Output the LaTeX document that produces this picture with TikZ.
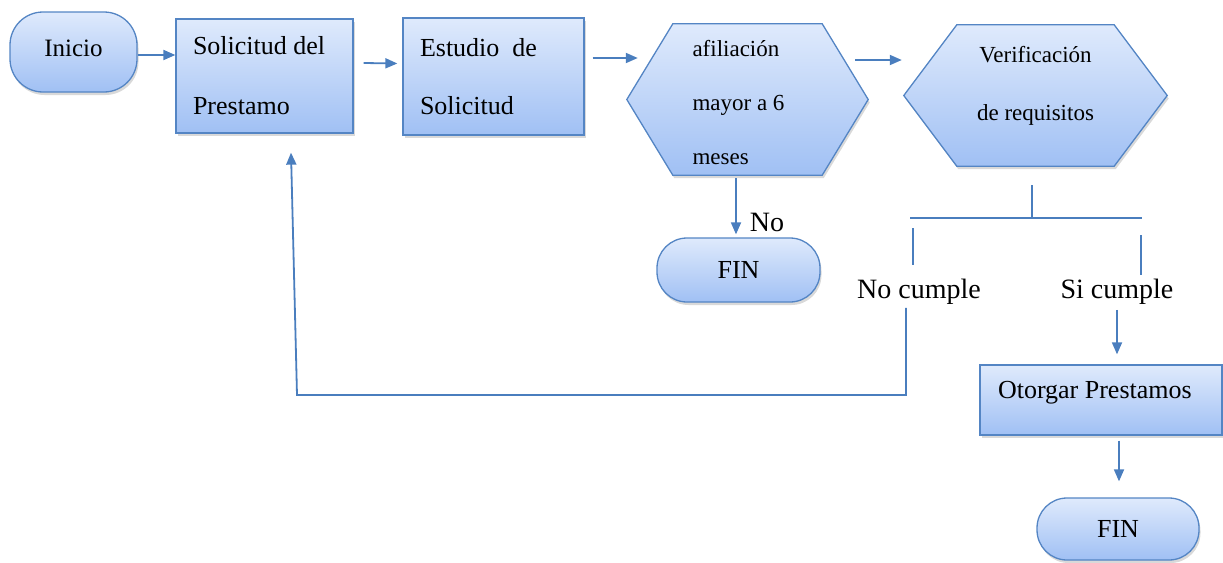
\documentclass[tikz,border=0pt]{standalone}
\usepackage{fontspec}
\setmainfont{Liberation Serif}
\usetikzlibrary{arrows.meta,shadows,backgrounds}
\definecolor{edgec}{RGB}{84,133,196}
\definecolor{topc}{RGB}{223,234,252}
\definecolor{botc}{RGB}{160,192,244}
\definecolor{linec}{RGB}{74,126,190}
\tikzset{
  shadebox/.style={top color=topc, bottom color=botc, draw=edgec, line width=1.3pt,
    drop shadow={shadow xshift=1.5pt, shadow yshift=-3pt, opacity=0.3}},
  procbox/.style={shadebox, rectangle, inner sep=0pt, align=flush left},
  termbox/.style={shadebox, rectangle, rounded corners=30pt, inner sep=0pt},
  hexframe/.style={rectangle, draw=none, inner sep=0pt},
  conn/.style={draw=linec, line width=1.8pt},
  arr/.style={conn, -{Triangle[length=12pt,width=10pt]}},
  lbl/.style={font=\fontsize{28}{32}\selectfont, inner sep=0pt},
}
\begin{document}
\begin{tikzpicture}[x=1pt,y=-1pt]
\useasboundingbox (0,0) rectangle (1223,562);
% nodes
\node[termbox, minimum width=127pt, minimum height=80pt, rounded corners=33pt,
      font=\fontsize{25}{30}\selectfont, text depth=8pt] (ini) at (73.5,52) {Inicio};
\node[procbox, minimum width=177pt, minimum height=114pt, text width=143pt,
      font=\fontsize{26}{60}\selectfont] (sol) at (264.5,76) {Solicitud del\\Prestamo};
\node[procbox, minimum width=181pt, minimum height=117pt, text width=147pt,
      font=\fontsize{26}{58}\selectfont] (est) at (493.5,76.5) {Estudio\ \ de\\Solicitud};
\node[hexframe, minimum width=241pt, minimum height=151pt, text width=110pt, align=flush left,
      font=\fontsize{23}{54}\selectfont, text height=23pt] (h1) at (747.5,99.5)
      {afiliación\\mayor a 6\\meses};
\node[hexframe, minimum width=263pt, minimum height=141pt, align=center,
      font=\fontsize{23}{58}\selectfont, text depth=25pt] (h2) at (1035.5,95.5)
      {Verificación\\de requisitos};
\node[termbox, minimum width=163pt, minimum height=64pt,
      font=\fontsize{26}{30}\selectfont] (fin1) at (738.5,270) {FIN};
\node[lbl] (nolbl) at (767,222) {No};
\node[lbl] (nc) at (919,292) {No cumple};
\node[lbl] (sc) at (1117,292) {Si cumple};
\node[procbox, minimum width=242pt, minimum height=70pt, text width=206pt,
      font=\fontsize{26}{30}\selectfont, text depth=21pt] (oto) at (1101,400) {Otorgar Prestamos};
\node[termbox, minimum width=162pt, minimum height=62pt,
      font=\fontsize{26}{30}\selectfont] (fin2) at (1118,529) {FIN};
% hexagon outlines
\begin{scope}[on background layer]
\path[shadebox] (h1.west) -- ([xshift=46pt]h1.north west) -- ([xshift=-46pt]h1.north east)
  -- (h1.east) -- ([xshift=-46pt]h1.south east) -- ([xshift=46pt]h1.south west) -- cycle;
\path[shadebox] (h2.west) -- ([xshift=53pt]h2.north west) -- ([xshift=-53pt]h2.north east)
  -- (h2.east) -- ([xshift=-53pt]h2.south east) -- ([xshift=53pt]h2.south west) -- cycle;
\end{scope}
% connectors
\draw[arr] ([yshift=-3pt]ini.east) -- ([yshift=21pt]sol.west);
\draw[arr] ([xshift=10pt,yshift=13pt]sol.east) -- ([xshift=-5pt,yshift=13pt]est.west);
\draw[arr] ([xshift=8pt,yshift=18.5pt]est.east) -- ([xshift=11pt,yshift=41.5pt]h1.west);
\draw[arr] ([xshift=-13pt,yshift=39.5pt]h1.east) -- ([xshift=-2pt,yshift=35.5pt]h2.west);
\draw[arr] ([xshift=-11.5pt,yshift=-3pt]h1.south) -- ([xshift=-2.5pt,yshift=3pt]fin1.north);
% branch from verification
\coordinate (vtop) at (1032,185);
\coordinate (vbot) at (1032,218);
\coordinate (bl) at (910,218);
\coordinate (br) at (1142,218);
\coordinate (dl1) at (913,228);
\coordinate (dr1) at (1141,235);
\coordinate (dr2) at (1141,275);
\draw[conn] (vtop) -- (vbot);
\draw[conn] (bl) -- (br);
\draw[conn] (dl1) -- ([xshift=-6pt,yshift=14pt]nc.north);
\draw[conn] (dr1) -- (dr2);
% loop back
\coordinate (loopR) at (906,395);
\coordinate (loopL) at (297,395);
\draw[arr] ([xshift=-13pt,yshift=-3pt]nc.south) -- (loopR) -- (loopL)
  -- ([xshift=26.5pt,yshift=-19pt]sol.south);
\draw[arr] ([yshift=-5pt]sc.south) -- ([xshift=16pt,yshift=10pt]oto.north);
\draw[arr] ([xshift=18pt,yshift=-5pt]oto.south) -- ([xshift=1pt,yshift=16pt]fin2.north);
\end{tikzpicture}
\end{document}
